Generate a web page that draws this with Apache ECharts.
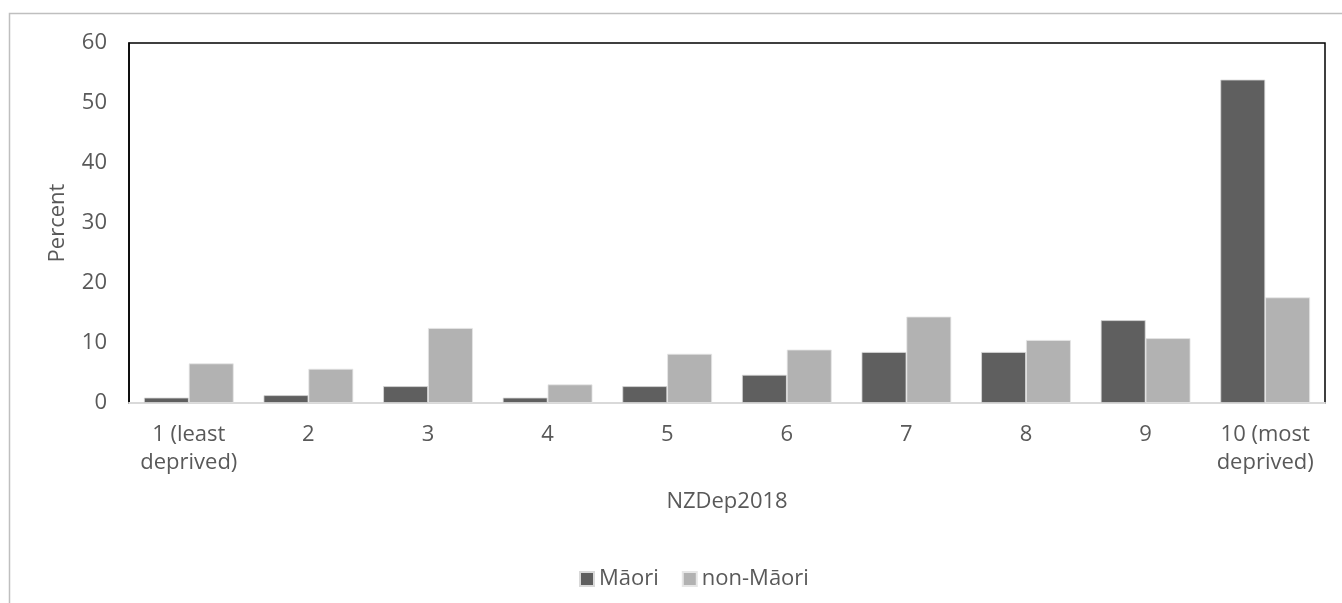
<!DOCTYPE html>
<html><head><meta charset="utf-8">
<script src="https://cdn.jsdelivr.net/npm/echarts@6/dist/echarts.min.js"></script>
<style>html,body{margin:0;padding:0;background:#fff}#c{width:1342px;height:603px}</style>
</head><body><div id="c"></div>
<script>
const categories = ['1 (least\ndeprived)','2','3','4','5','6','7','8','9','10 (most\ndeprived)'];
const maori = [0.9, 1.3, 2.8, 0.9, 2.8, 4.7, 8.5, 8.5, 13.8, 53.9];
const nonMaori = [6.6, 5.7, 12.5, 3.1, 8.2, 8.9, 14.4, 10.5, 10.8, 17.6];
const yTicks = [0,10,20,30,40,50,60];
const FONT = 'Open Sans';
const FS = 22;
const chart = echarts.init(document.getElementById('c'));
chart.setOption({
  animation:false,
  textStyle:{fontFamily:FONT},
  graphic:[{type:'rect',shape:{x:9.5,y:13.5,width:1340,height:600},style:{fill:'none',stroke:'#bfbfbf',lineWidth:1.5},z:-10}],
  grid:{left:129,top:43,right:17,bottom:200,show:true,borderColor:'#000',borderWidth:1.5,backgroundColor:'#fff'},
  legend:{top:563,left:574,itemWidth:14,itemHeight:14,itemGap:23,icon:'rect',
    textStyle:{fontFamily:FONT,fontSize:FS,color:'#595959'},data:['Māori','non-Māori']},
  xAxis:{type:'category',data:categories,name:'NZDep2018',nameLocation:'middle',nameGap:88,
    nameTextStyle:{fontFamily:FONT,fontSize:FS,color:'#595959'},
    axisLine:{lineStyle:{color:'#d9d9d9',width:2}},axisTick:{show:false},
    axisLabel:{interval:0,hideOverlap:false,fontFamily:FONT,fontSize:FS,color:'#595959',lineHeight:28,margin:18}},
  yAxis:{type:'value',min:0,max:60,interval:10,name:'Percent',nameLocation:'middle',nameGap:60,
    nameTextStyle:{fontFamily:FONT,fontSize:FS,color:'#595959'},
    axisLine:{show:true,lineStyle:{color:'#000',width:1.5}},axisTick:{show:false},splitLine:{show:false},
    axisLabel:{fontFamily:FONT,fontSize:FS,color:'#595959',margin:22,formatter:v=>yTicks.includes(v)?String(v):''}},
  series:[
    {name:'Māori',type:'bar',data:maori,barGap:'0%',barCategoryGap:'25%',
      itemStyle:{color:'#5f5f5f',borderColor:'#d9d9d9',borderWidth:0.8}},
    {name:'non-Māori',type:'bar',data:nonMaori,barGap:'0%',barCategoryGap:'25%',
      itemStyle:{color:'#b2b2b2',borderColor:'#e6e6e6',borderWidth:0.8}}
  ]
});
</script></body></html>
